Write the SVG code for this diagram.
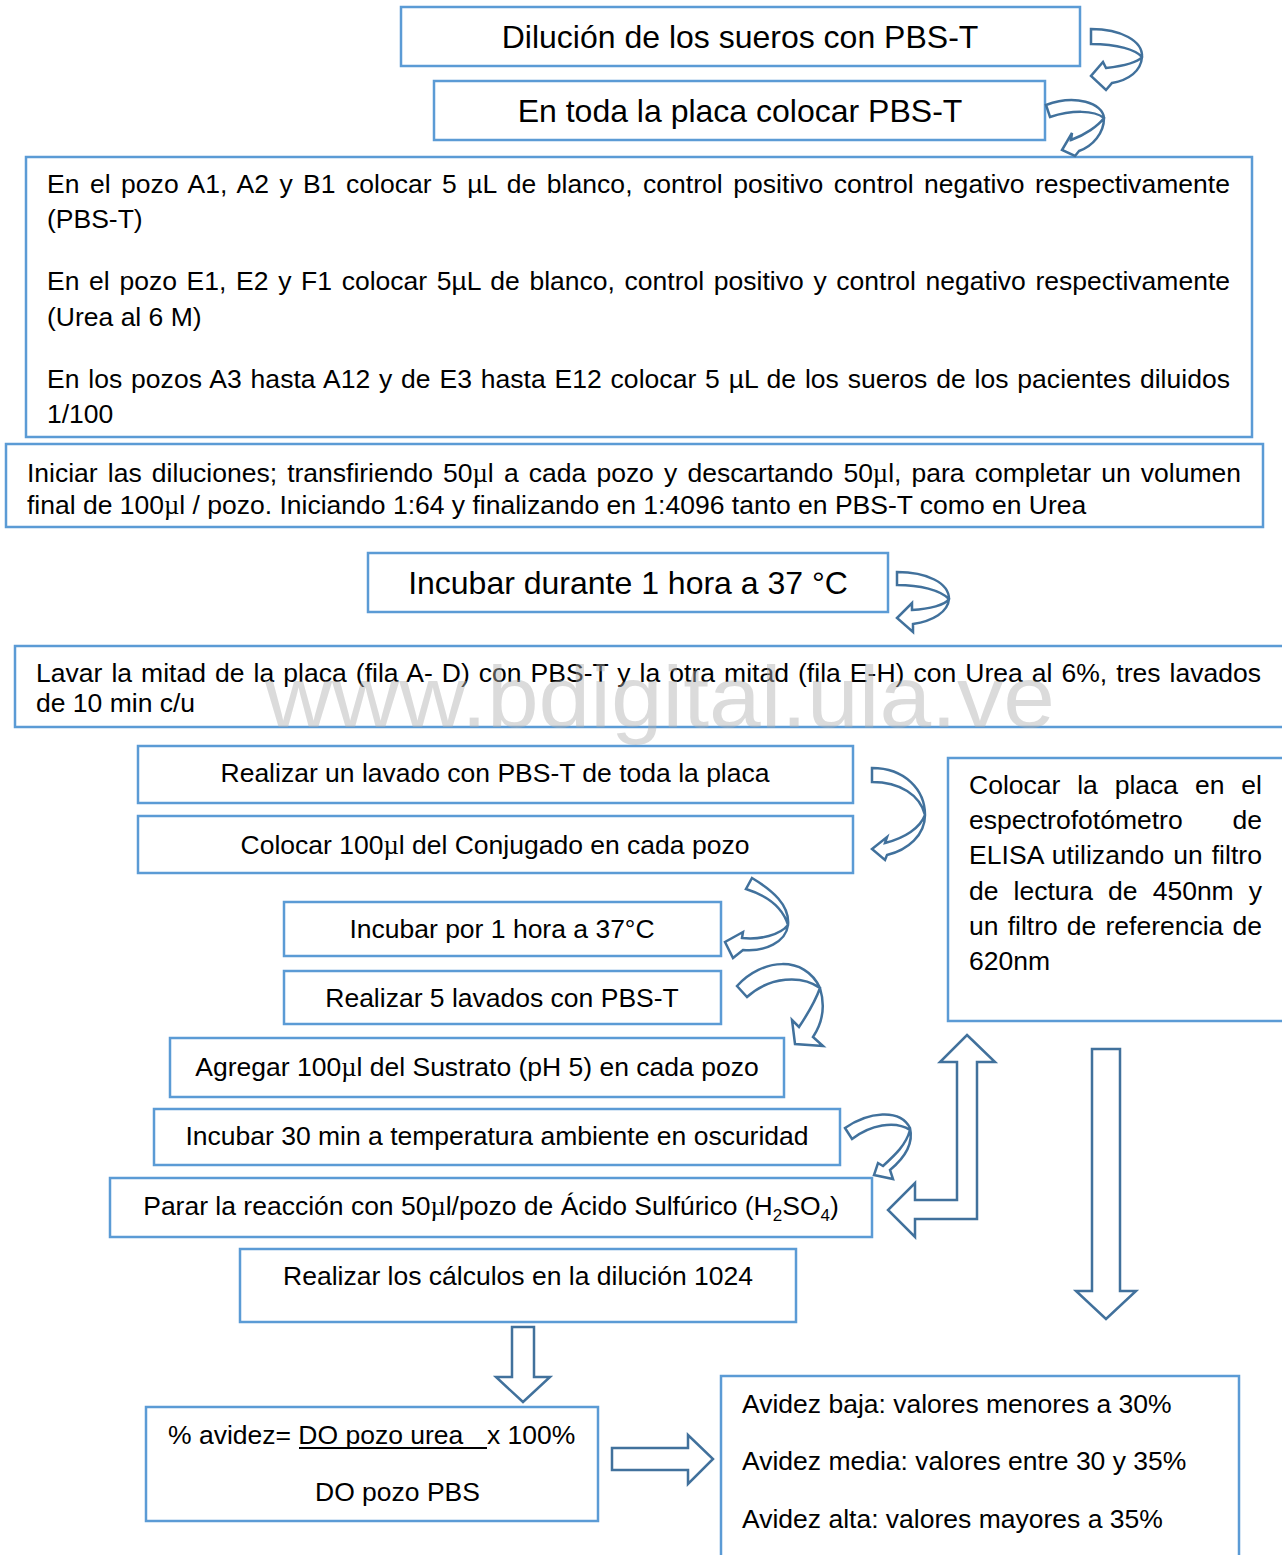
<svg xmlns="http://www.w3.org/2000/svg" width="1282" height="1555" viewBox="0 0 1282 1555">
<style>
.box{fill:#fff;stroke:#5b9bd5;stroke-width:2.5}
.arr{fill:#fff;stroke:#41719c;stroke-width:2.5;stroke-linejoin:miter}
text{font-family:'Liberation Sans',Arial,sans-serif;fill:#000}
.t{font-size:26.5px}
.big{font-size:32px}
.mid{text-anchor:middle}
.mu{font-family:'Liberation Serif','Times New Roman',serif}
.wm{font-size:88px;fill:#b0b0b0;fill-opacity:0.45}
</style>
<rect width="1282" height="1555" fill="#fff"/>

<g id="n1"><rect class="box" x="401" y="7" width="679" height="59"/><text class="big mid" x="740" y="48">Dilución de los sueros con PBS-T</text></g>
<g id="n2"><rect class="box" x="434" y="81" width="611" height="59"/><text class="big mid" x="740" y="122">En toda la placa colocar PBS-T</text></g>
<g id="n3"><rect class="box" x="26" y="157" width="1226" height="280"/>
<text class="t" x="47" y="193" word-spacing="3" textLength="1183" lengthAdjust="spacing">En el pozo A1, A2 y B1 colocar 5 µL de blanco, control positivo control negativo respectivamente</text>
<text class="t" x="47" y="228">(PBS-T)</text>
<text class="t" x="47" y="290" word-spacing="2.3" textLength="1183" lengthAdjust="spacing">En el pozo E1, E2 y F1 colocar 5µL de blanco, control positivo y control negativo respectivamente</text>
<text class="t" x="47" y="326">(Urea al 6 M)</text>
<text class="t" x="47" y="388" word-spacing="1.4" textLength="1183" lengthAdjust="spacing">En los pozos A3 hasta A12 y de E3 hasta E12 colocar 5 µL de los sueros de los pacientes diluidos</text>
<text class="t" x="47" y="423">1/100</text></g>
<g id="n4"><rect class="box" x="6" y="444" width="1257" height="83"/>
<text class="t" x="27" y="482" word-spacing="2.8" textLength="1214" lengthAdjust="spacing">Iniciar las diluciones; transfiriendo 50<tspan class="mu">µ</tspan>l a cada pozo y descartando 50<tspan class="mu">µ</tspan>l, para completar un volumen</text>
<text class="t" x="27" y="514">final de 100<tspan class="mu">µ</tspan>l / pozo. Iniciando 1:64 y finalizando en 1:4096 tanto en PBS-T como en Urea</text></g>
<g id="n5"><rect class="box" x="368" y="553" width="520" height="59"/><text class="big mid" x="628" y="594">Incubar durante 1 hora a 37 °C</text></g>
<g id="n6"><rect class="box" x="15" y="646" width="1280" height="81"/>
<text class="t" x="36" y="682" word-spacing="1.65" textLength="1225" lengthAdjust="spacing">Lavar la mitad de la placa (fila A- D) con PBS-T y la otra mitad (fila E-H) con Urea al 6%, tres lavados</text>
<text class="t" x="36" y="712">de 10 min c/u</text></g>
<g id="n7"><rect class="box" x="138" y="746" width="715" height="57"/><text class="t mid" x="495" y="782">Realizar un lavado con PBS-T de toda la placa</text></g>
<g id="n8"><rect class="box" x="138" y="816" width="715" height="57"/><text class="t mid" x="495" y="854">Colocar 100<tspan class="mu">µ</tspan>l del Conjugado en cada pozo</text></g>
<g id="n9"><rect class="box" x="284" y="902" width="437" height="54"/><text class="t mid" x="502" y="938">Incubar por 1 hora a 37°C</text></g>
<g id="n10"><rect class="box" x="284" y="971" width="437" height="53"/><text class="t mid" x="502" y="1007">Realizar 5 lavados con PBS-T</text></g>
<g id="n11"><rect class="box" x="170" y="1038" width="614" height="59"/><text class="t mid" x="477" y="1076">Agregar 100<tspan class="mu">µ</tspan>l del Sustrato (pH 5) en cada pozo</text></g>
<g id="n12"><rect class="box" x="154" y="1109" width="686" height="56"/><text class="t mid" x="497" y="1145">Incubar 30 min a temperatura ambiente en oscuridad</text></g>
<g id="n13"><rect class="box" x="110" y="1178" width="762" height="59"/><text class="t mid" x="491" y="1215">Parar la reacción con 50<tspan class="mu">µ</tspan>l/pozo de Ácido Sulfúrico (H<tspan style="font-size:17px" dy="6">2</tspan><tspan dy="-6">SO</tspan><tspan style="font-size:17px" dy="6">4</tspan><tspan dy="-6">)</tspan></text></g>
<g id="n14"><rect class="box" x="240" y="1249" width="556" height="73"/><text class="t mid" x="518" y="1285">Realizar los cálculos en la dilución 1024</text></g>
<g id="n15"><rect class="box" x="146" y="1407" width="452" height="114"/>
<text class="t" x="168" y="1444">% avidez= DO pozo urea</text>
<line x1="299" y1="1448" x2="487" y2="1448" stroke="#000" stroke-width="1.8"/>
<text class="t" x="487" y="1444">x 100%</text>
<text class="t" x="315" y="1501">DO pozo PBS</text></g>
<g id="n16"><rect class="box" x="721" y="1376" width="518" height="200"/>
<text class="t" x="742" y="1413">Avidez baja: valores menores a 30%</text>
<text class="t" x="742" y="1470">Avidez media: valores entre 30 y 35%</text>
<text class="t" x="742" y="1528">Avidez alta: valores mayores a 35%</text></g>
<g id="n17"><rect class="box" x="948" y="758" width="340" height="263"/>
<text class="t" x="969" y="794" word-spacing="9.5" textLength="293" lengthAdjust="spacing">Colocar la placa en el</text>
<text class="t" x="969" y="829" word-spacing="42.5" textLength="293" lengthAdjust="spacing">espectrofotómetro de</text>
<text class="t" x="969" y="864" word-spacing="1.4" textLength="293" lengthAdjust="spacing">ELISA utilizando un filtro</text>
<text class="t" x="969" y="900" word-spacing="7.7" textLength="293" lengthAdjust="spacing">de lectura de 450nm y</text>
<text class="t" x="969" y="935" word-spacing="1.8" textLength="293" lengthAdjust="spacing">un filtro de referencia de</text>
<text class="t" x="969" y="970">620nm</text></g>

<g id="connectors">
<path class="arr" d="M1091,29 C1121,29 1143,41 1142,57 C1141,71 1129,80 1112,83 L1106,90 L1091,76 L1103,62 L1106,68 C1123,66 1137,63 1142,57 C1136,50 1118,44 1091,44 Z"/>
<path class="arr" d="M1046,105 C1075,94 1103,103 1104,118 C1104,133 1093,146 1079,151 L1075,156 L1062,150 L1072,133 L1071,140 C1085,135 1098,126 1104,118 C1094,110 1072,110 1050,117 Z"/>
<path class="arr" d="M897,572 C927,572 949,583 949,599 C948,612 933,621 913,624 L913,632 L897,618 L912,603 L912,610 C930,609 945,605 949,599 C940,590 920,585 897,585 Z"/>
<path class="arr" d="M872,768 C905,768 925,790 925,815 C925,835 908,850 887,855 L885,860 L872,849 L887,837 L885,843 C905,838 920,828 925,815 C920,795 900,782 872,782 Z"/>
<path class="arr" d="M752,878 C772,890 790,905 788,925 C786,942 765,952 743,950 L733,958 L725,942 L743,932 L742,938 C760,940 780,935 788,925 C782,905 765,895 746,889 Z"/>
<path class="arr" d="M737,986 C762,958 805,955 820,988 C826,1008 821,1025 813,1037 L823,1046 L795,1044 L792,1020 L799,1027 C807,1015 815,1002 820,988 C802,975 770,976 747,997 Z"/>
<path class="arr" d="M845,1128 C868,1112 900,1108 910,1128 C914,1145 902,1160 890,1170 L893,1179 L874,1175 L878,1163 L883,1166 C895,1155 906,1145 910,1130 C895,1120 870,1125 852,1139 Z"/>
<path class="arr" d="M967,1035 L995,1062 L977,1062 L977,1219 L915,1219 L915,1237 L888,1210 L915,1183 L915,1200 L957,1200 L957,1062 L940,1062 Z"/>
<path class="arr" d="M1092,1049 L1120,1049 L1120,1291 L1136,1291 L1106,1319 L1076,1291 L1092,1291 Z"/>
<path class="arr" d="M512,1327 L534,1327 L534,1377 L550,1377 L523,1402 L496,1377 L512,1377 Z"/>
<path class="arr" d="M612,1448 L688,1448 L688,1435 L713,1459 L688,1484 L688,1470 L612,1470 Z"/>
</g>

<text class="wm" x="265" y="727" textLength="790" lengthAdjust="spacingAndGlyphs">www.bdigital.ula.ve</text>
</svg>
